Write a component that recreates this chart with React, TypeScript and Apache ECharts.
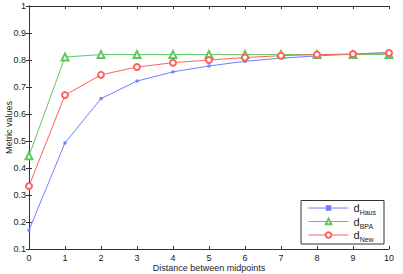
import React, { useEffect, useRef } from "react";
import * as echarts from "echarts";

const xValues = [0, 1, 2, 3, 4, 5, 6, 7, 8, 9, 10];
const hausValues = [0.17, 0.493, 0.657, 0.722, 0.756, 0.778, 0.795, 0.807, 0.815, 0.822, 0.828];
const bpaValues = [0.445, 0.811, 0.82, 0.82, 0.82, 0.82, 0.82, 0.82, 0.82, 0.82, 0.82];
const newValues = [0.333, 0.67, 0.745, 0.774, 0.79, 0.8, 0.809, 0.816, 0.82, 0.822, 0.826];
const seriesNames = ["Haus", "BPA", "New"];

const FONT = "Liberation Sans, Arial, sans-serif";
const AX = "#333";
const BLUE = "#7080ff";
const GREEN = "#60c860";
const RED = "#ff6060";

export default function App() {
  const ref = useRef<HTMLDivElement>(null);
  useEffect(() => {
    const chart = echarts.init(ref.current!, null, { renderer: "svg" });
    const pts = (vals: number[]) => xValues.map((x, i) => [x, vals[i]]);
    const lab = (v: number) => String(+v.toFixed(1));
    chart.setOption({
      animation: false,
      textStyle: { fontFamily: FONT },
      grid: { left: 29, right: 14, top: 6, bottom: 25, containLabel: false, outerBoundsMode: "none" },
      legend: {
        data: seriesNames,
        orient: "vertical",
        right: 19,
        bottom: 30,
        width: 89,
        itemWidth: 40,
        itemHeight: 7,
        itemGap: 0,
        padding: [2, 8, 1, 7],
        borderColor: AX,
        borderWidth: 1,
        backgroundColor: "#fff",
        lineStyle: { width: 1 },
        itemStyle: { borderWidth: 1 },
        formatter: (n: string) => "{d|d}{s|" + n + "}",
        textStyle: {
          rich: {
            d: { fontSize: 11, lineHeight: 16, fontFamily: FONT, color: "#222" },
            s: { fontSize: 7, lineHeight: 8, fontFamily: FONT, color: "#222", verticalAlign: "bottom", padding: [6, 0, 0, 0] },
          },
        },
      },
      xAxis: [
        {
          type: "value",
          min: 0,
          max: 10,
          interval: 1,
          name: "Distance between midpoints",
          nameLocation: "middle",
          nameGap: 14,
          nameMoveOverlap: false,
          nameTextStyle: { fontSize: 9, color: "#222", fontFamily: FONT },
          axisLine: { show: true, lineStyle: { color: AX, width: 1 } },
          axisTick: { show: true, inside: true, length: 3, lineStyle: { color: AX } },
          axisLabel: { fontSize: 9, color: "#222", margin: 4, fontFamily: FONT },
          splitLine: { show: false },
        },
        {
          type: "value",
          position: "top",
          min: 0,
          max: 10,
          interval: 1,
          axisLine: { show: true, lineStyle: { color: AX, width: 1 } },
          axisTick: { show: true, inside: true, length: 3, lineStyle: { color: AX } },
          axisLabel: { show: false },
          splitLine: { show: false },
        },
      ],
      yAxis: [
        {
          type: "value",
          min: 0.1,
          max: 1,
          interval: 0.1,
          name: "Metric values",
          nameLocation: "middle",
          nameRotate: 90,
          nameGap: 16,
          nameMoveOverlap: false,
          nameTextStyle: { fontSize: 9, color: "#222", fontFamily: FONT },
          axisLine: { show: true, lineStyle: { color: AX, width: 1 } },
          axisTick: { show: true, inside: true, length: 3, lineStyle: { color: AX } },
          axisLabel: { fontSize: 9, color: "#222", margin: 3, fontFamily: FONT, formatter: lab },
          splitLine: { show: false },
        },
        {
          type: "value",
          position: "right",
          min: 0.1,
          max: 1,
          interval: 0.1,
          axisLine: { show: true, lineStyle: { color: AX, width: 1 } },
          axisTick: { show: true, inside: true, length: 3, lineStyle: { color: AX } },
          axisLabel: { show: false },
          splitLine: { show: false },
        },
      ],
      series: [
        {
          name: seriesNames[0],
          type: "line",
          data: pts(hausValues),
          symbol: "rect",
          symbolSize: 3,
          color: BLUE,
          lineStyle: { width: 1 },
          itemStyle: { color: BLUE },
        },
        {
          name: seriesNames[1],
          type: "line",
          data: pts(bpaValues),
          symbol: "emptyTriangle",
          symbolSize: 7,
          color: GREEN,
          lineStyle: { width: 1 },
          itemStyle: { color: GREEN, borderColor: GREEN, borderWidth: 0.8 },
        },
        {
          name: seriesNames[2],
          type: "line",
          data: pts(newValues),
          symbol: "emptyCircle",
          symbolSize: 6,
          color: RED,
          lineStyle: { width: 1 },
          itemStyle: { color: RED, borderColor: RED, borderWidth: 0.8 },
        },
      ],
    });
    return () => chart.dispose();
  }, []);
  return <div ref={ref} style={{ width: 403, height: 274, position: "absolute", left: 0, top: 0 }} />;
}
